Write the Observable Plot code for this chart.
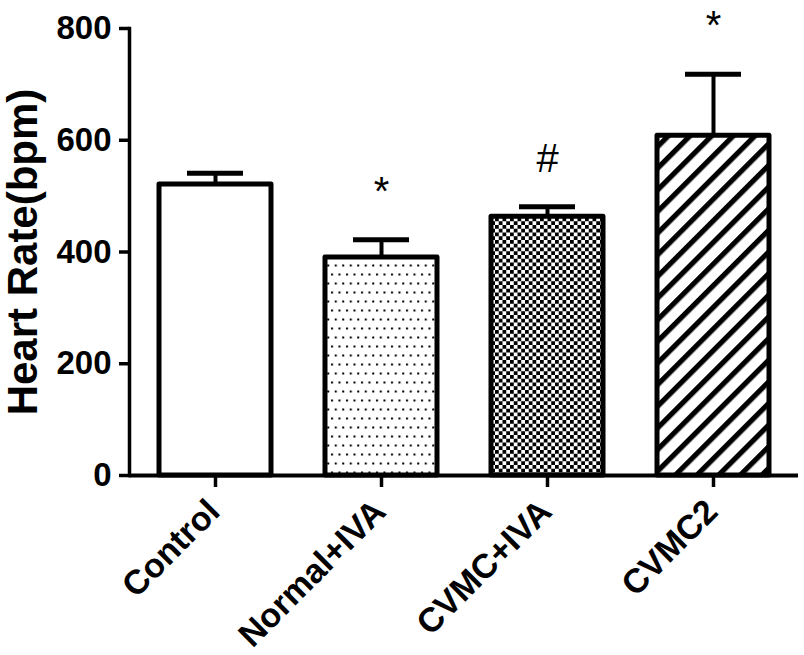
<!DOCTYPE html>
<html>
<head>
<meta charset="utf-8">
<script src="https://cdn.jsdelivr.net/npm/d3@7"></script>
<script src="https://cdn.jsdelivr.net/npm/@observablehq/plot@0.6"></script>
<style>
  html, body { margin: 0; padding: 0; background: #fff; }
  #chart svg { display: block; font-family: "Liberation Sans", Arial, sans-serif; }
</style>
</head>
<body>
<div id="chart"></div>
<script>
// ---- data ----
const categories = ["Control", "Normal+IVA", "CVMC+IVA", "CVMC2"];
const means = [521, 390, 463, 608];
const sds = [20, 32, 18, 110];
const significance = ["", "*", "#", "*"];
const yTicks = [0, 200, 400, 600, 800];
const yLabel = "Heart Rate(bpm)";

// ---- styles (per category) ----
const fills = {
  "Control": "white",
  "Normal+IVA": "url(#pat-dots)",
  "CVMC+IVA": "url(#pat-checker)",
  "CVMC2": "url(#pat-stripes)"
};

const table = categories.map((c, i) => ({group: c, mean: means[i], sd: sds[i], sig: significance[i]}));

const svg = Plot.plot({
  width: 804,
  height: 655,
  marginTop: 28,
  marginBottom: 180,
  marginLeft: 129,
  marginRight: 6,
  style: {fontFamily: '"Liberation Sans", Arial, sans-serif', background: "white", color: "black", overflow: "visible"},
  x: {domain: categories, paddingInner: 0.328, paddingOuter: 0.168, axis: null},
  y: {domain: [0, 800], axis: null},
  color: {type: "identity"},
  marks: [
    // error bars
    Plot.ruleX(table, {x: "group", y1: "mean", y2: d => d.mean + d.sd, stroke: "black", strokeWidth: 4}),
    Plot.tickY(table, {x: "group", y: d => d.mean + d.sd, stroke: "black", strokeWidth: 5, insetLeft: 28, insetRight: 28}),
    // bars
    Plot.barY(table, {x: "group", y: "mean", fill: d => fills[d.group], stroke: "black", strokeWidth: 5, strokeLinejoin: "round"}),
    // axes
    Plot.frame({anchor: "left", stroke: "black", strokeWidth: 3.5}),
    Plot.ruleY([0], {stroke: "black", strokeWidth: 4}),
    Plot.axisY({ticks: yTicks, tickSize: 10, tickPadding: 8, fontSize: 33, fontWeight: "bold", strokeWidth: 3.5, label: null, tickFormat: d3.format("d")}),
    Plot.axisX({tickSize: 12, strokeWidth: 3.5, tickFormat: () => "", label: null}),
    Plot.text(categories, {x: d => d, frameAnchor: "bottom", text: d => d, rotate: -45, textAnchor: "end", lineAnchor: "top", dx: -11, dy: 21, fontSize: 34, fontWeight: "bold", fill: "black"}),
    Plot.text([yLabel], {frameAnchor: "left", text: d => d, rotate: -90, textAnchor: "middle", lineAnchor: "top", dx: -122, fontSize: 42, fontWeight: "bold", fill: "black"}),
    // significance marks
    Plot.text(table.filter(d => d.sig), {x: "group", y: d => d.mean + d.sd, text: "sig", lineAnchor: "bottom", dy: -35, fontSize: 40, fill: "black"})
  ]
});

// pattern definitions
const ns = "http://www.w3.org/2000/svg";
const defs = document.createElementNS(ns, "defs");
defs.innerHTML = `
  <pattern id="pat-dots" patternUnits="userSpaceOnUse" width="7.5" height="18">
    <rect width="7.5" height="18" fill="white"/>
    <rect x="1" y="3.5" width="2" height="2" fill="black"/>
    <rect x="4.75" y="12.5" width="2" height="2" fill="black"/>
  </pattern>
  <pattern id="pat-checker" patternUnits="userSpaceOnUse" width="7.5" height="7.5">
    <rect width="7.5" height="7.5" fill="white"/>
    <rect x="0" y="0" width="3.75" height="3.75" fill="black"/>
    <rect x="3.75" y="3.75" width="3.75" height="3.75" fill="black"/>
  </pattern>
  <pattern id="pat-stripes" patternUnits="userSpaceOnUse" width="15.3" height="15.3" patternTransform="rotate(45)">
    <rect width="15.3" height="15.3" fill="white"/>
    <rect x="0" y="0" width="5.2" height="15.3" fill="black"/>
  </pattern>`;
svg.insertBefore(defs, svg.firstChild);

document.getElementById("chart").appendChild(svg);
</script>
</body>
</html>
